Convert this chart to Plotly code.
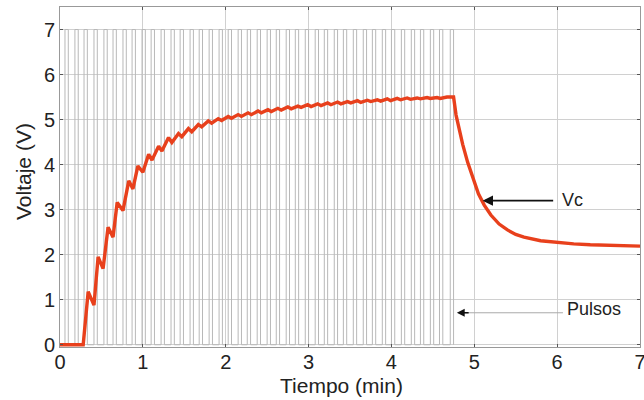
import plotly.graph_objects as go

# Vc (capacitor voltage)
vc_t = [0.00, 0.28, 0.34, 0.41, 0.46, 0.52, 0.58, 0.64, 0.69, 0.76, 0.83, 0.88, 0.94, 1.00,
        1.07, 1.11, 1.19, 1.23, 1.31, 1.35, 1.43, 1.47, 1.55, 1.59, 1.67, 1.71, 1.79, 1.83,
        1.91, 1.95, 2.03, 2.07, 2.15, 2.19, 2.27, 2.31, 2.39, 2.43, 2.51, 2.55, 2.63, 2.67,
        2.75, 2.79, 2.87, 2.91, 2.99, 3.03, 3.11, 3.15, 3.23, 3.27, 3.35, 3.39, 3.47, 3.51,
        3.59, 3.63, 3.71, 3.75, 3.83, 3.87, 3.95, 3.99, 4.07, 4.11, 4.19, 4.23, 4.31, 4.35,
        4.43, 4.47, 4.55, 4.59, 4.67, 4.75,
        4.78, 4.82, 4.86, 4.92, 4.98, 5.05, 5.12, 5.20, 5.30, 5.40, 5.50, 5.60, 5.80, 6.00,
        6.20, 6.40, 6.60, 6.80, 7.00]
vc_v = [0.00, 0.00, 1.18, 0.88, 1.95, 1.69, 2.61, 2.39, 3.16, 2.98, 3.64, 3.46, 3.97, 3.83,
        4.23, 4.10, 4.41, 4.30, 4.60, 4.49, 4.69, 4.62, 4.80, 4.73, 4.89, 4.84, 4.97, 4.92,
        5.02, 4.98, 5.07, 5.03, 5.11, 5.07, 5.15, 5.11, 5.19, 5.15, 5.22, 5.18, 5.25, 5.21,
        5.28, 5.24, 5.30, 5.27, 5.33, 5.29, 5.35, 5.31, 5.37, 5.33, 5.39, 5.35, 5.40, 5.37,
        5.42, 5.38, 5.43, 5.40, 5.44, 5.41, 5.46, 5.42, 5.47, 5.44, 5.48, 5.45, 5.48, 5.46,
        5.49, 5.47, 5.49, 5.47, 5.50, 5.50,
        5.10, 4.75, 4.45, 4.05, 3.72, 3.35, 3.10, 2.88, 2.68, 2.55, 2.45, 2.39, 2.31, 2.27,
        2.24, 2.22, 2.21, 2.20, 2.19]

# Pulse train (0 V / 7 V), rising and falling edge times
pulse_on = [0.06, 0.18, 0.29, 0.41, 0.53, 0.64, 0.76, 0.87, 0.99, 1.10, 1.22, 1.34, 1.45, 1.57,
            1.68, 1.80, 1.92, 2.03, 2.15, 2.26, 2.38, 2.50, 2.61, 2.73, 2.84, 2.96, 3.08, 3.19,
            3.31, 3.42, 3.54, 3.66, 3.77, 3.89, 4.00, 4.12, 4.24, 4.35, 4.47, 4.58, 4.71]
pulse_off = [0.10, 0.22, 0.33, 0.45, 0.57, 0.68, 0.80, 0.91, 1.03, 1.14, 1.26, 1.38, 1.49, 1.61,
             1.72, 1.84, 1.96, 2.07, 2.19, 2.30, 2.42, 2.54, 2.65, 2.77, 2.88, 3.00, 3.12, 3.23,
             3.35, 3.46, 3.58, 3.70, 3.81, 3.93, 4.04, 4.16, 4.28, 4.39, 4.51, 4.62, 4.75]
pulse_low, pulse_high = 0.0, 7.0

x_ticks = [0, 1, 2, 3, 4, 5, 6, 7]
y_ticks = [0, 1, 2, 3, 4, 5, 6, 7]

px, py = [0.0], [pulse_low]
for a, b in zip(pulse_on, pulse_off):
    px += [a, a, b, b]
    py += [pulse_low, pulse_high, pulse_high, pulse_low]

fig = go.Figure()
fig.add_trace(go.Scatter(x=px, y=py, mode="lines",
                         line=dict(color="#b8b8b8", width=1), hoverinfo="skip"))
fig.add_trace(go.Scatter(x=vc_t, y=vc_v, mode="lines",
                         line=dict(color="#e8401c", width=3.4)))

font = "Liberation Sans, Arial, sans-serif"
txt = "#222222"

# Vc annotation
fig.add_annotation(x=5.1, y=3.2, ax=5.97, ay=3.2, xref="x", yref="y", axref="x", ayref="y",
                   showarrow=True, arrowhead=2, arrowsize=1.3, arrowwidth=1.6,
                   arrowcolor="#111111", text="")
fig.add_annotation(x=6.04, y=3.22, xref="x", yref="y", text="Vc", showarrow=False,
                   xanchor="left", font=dict(family=font, size=18, color=txt))
# Pulsos annotation
fig.add_shape(type="line", x0=4.86, x1=6.07, y0=0.71, y1=0.71, xref="x", yref="y",
              line=dict(color="#aaaaaa", width=1))
fig.add_annotation(x=4.79, y=0.71, ax=4.95, ay=0.71, xref="x", yref="y", axref="x", ayref="y",
                   showarrow=True, arrowhead=2, arrowsize=1.2, arrowwidth=1.3,
                   arrowcolor="#111111", text="")
fig.add_annotation(x=6.1, y=0.79, xref="x", yref="y", text="Pulsos", showarrow=False,
                   xanchor="left", font=dict(family=font, size=18, color=txt))

# Axis titles
fig.add_annotation(x=0.485, y=0.0, xref="paper", yref="paper", yshift=-38,
                   text="Tiempo (min)", showarrow=False, xanchor="center", yanchor="middle",
                   font=dict(family=font, size=21, color=txt))
fig.add_annotation(x=0, y=0.5, xref="paper", yref="paper", xshift=-37, yshift=5,
                   text="Voltaje (V)", showarrow=False, textangle=-90,
                   xanchor="center", yanchor="middle",
                   font=dict(family=font, size=21, color=txt))

axis_common = dict(showgrid=True, gridcolor="#d0d0d0", gridwidth=1, zeroline=False,
                   showline=True, linecolor="#999999", linewidth=1, mirror="ticks",
                   ticks="inside", ticklen=3, tickcolor="#555555", automargin=False,
                   ticklabeloverflow="allow",
                   tickfont=dict(family=font, size=20, color=txt))

fig.update_xaxes(range=[0, 7], tickvals=x_ticks, ticklabelstandoff=-3, **axis_common)
fig.update_yaxes(range=[-0.05, 7.5], tickvals=y_ticks, **axis_common)

fig.update_layout(width=644, height=400, showlegend=False,
                  margin=dict(l=60, r=4, t=7, b=53),
                  plot_bgcolor="white", paper_bgcolor="white")

fig.write_html("out.html", config={"displayModeBar": False})

# remove the default page margin so the figure sits at the window's top-left corner
with open("out.html", "r", encoding="utf-8") as f:
    html = f.read()
html = html.replace("<head>", "<head><style>html,body{margin:0;padding:0;overflow:hidden;}</style>", 1)
with open("out.html", "w", encoding="utf-8") as f:
    f.write(html)
